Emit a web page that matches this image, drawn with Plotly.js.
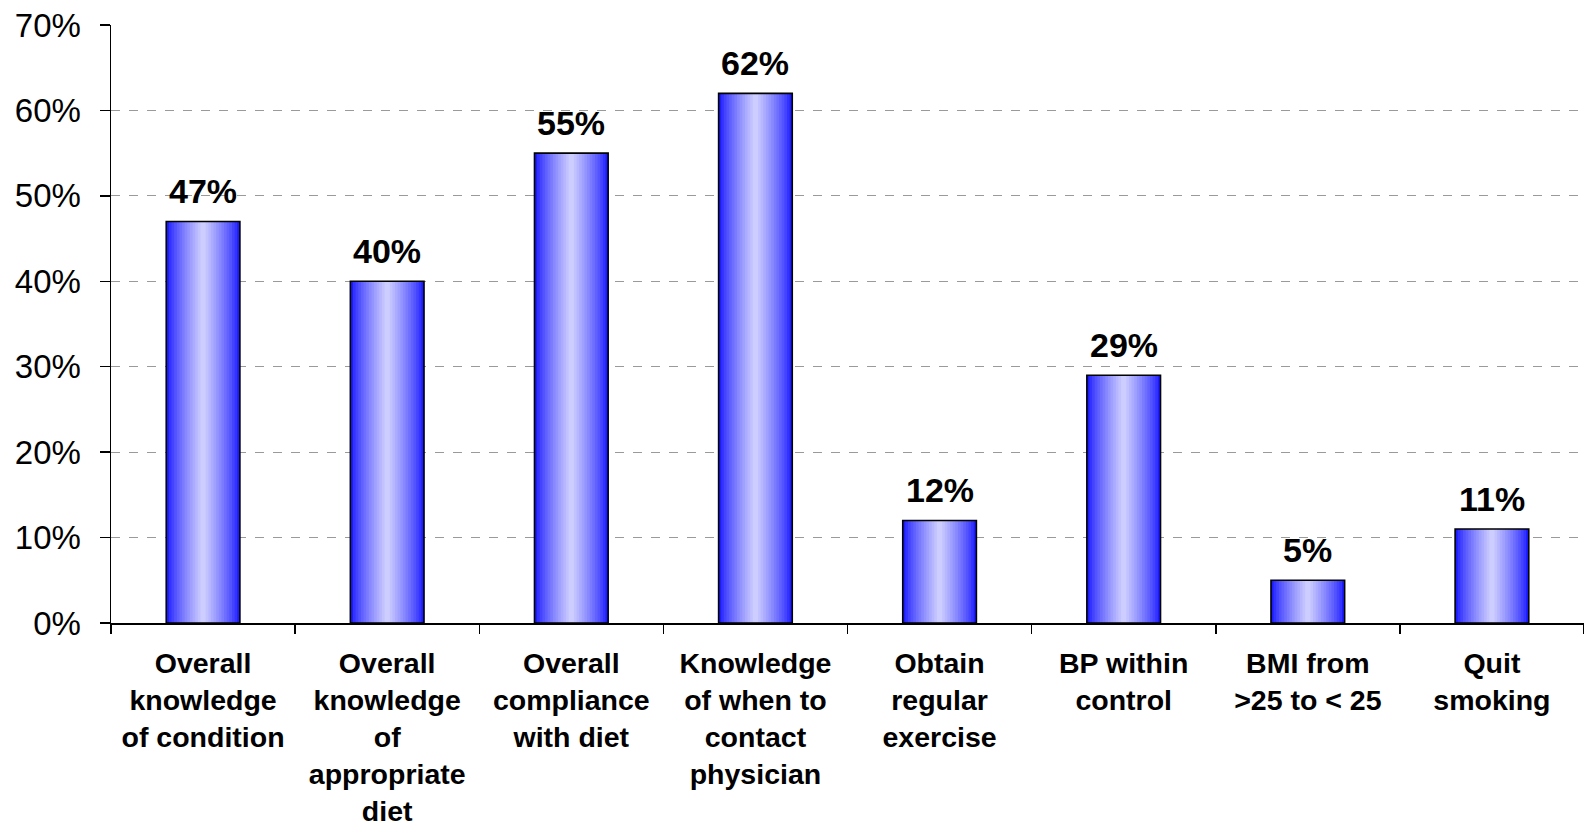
<!DOCTYPE html>
<html>
<head>
<meta charset="utf-8">
<script src="https://cdn.plot.ly/plotly-3.0.1.min.js"></script>
<style>html,body{margin:0;padding:0;background:#fff;}#chart{width:1584px;height:828px;}</style>
</head>
<body>
<div id="chart"></div>
<script>
const categories = [
  "Overall<br>knowledge<br>of condition",
  "Overall<br>knowledge<br>of<br>appropriate<br>diet",
  "Overall<br>compliance<br>with diet",
  "Knowledge<br>of when to<br>contact<br>physician",
  "Obtain<br>regular<br>exercise",
  "BP within<br>control",
  "BMI from<br>>25 to < 25",
  "Quit<br>smoking"
];
const values = [0.47, 0.40, 0.55, 0.62, 0.12, 0.29, 0.05, 0.11];
const yTickVals = [0, 0.1, 0.2, 0.3, 0.4, 0.5, 0.6, 0.7];

const BAR_W = 0.4;
const LAYERS = 14;
const traces = [];
for (let k = 0; k < LAYERS; k++) {
  const t = k / (LAYERS - 1);
  const f = Math.pow(t, 0.8);
  const r = Math.round(28 + (205 - 28) * f);
  traces.push({
    type: 'bar', x: categories, y: values,
    width: BAR_W * (1 - k / LAYERS),
    marker: {color: `rgb(${r},${r},255)`, line: {width: 0}},
    hoverinfo: 'skip', showlegend: false
  });
}
traces.push({
  type: 'bar', x: categories, y: values, width: BAR_W,
  marker: {color: 'rgba(0,0,0,0)', line: {color: '#000', width: 1.6}},
  hoverinfo: 'skip', showlegend: false
});

const annotations = categories.map((c, i) => ({
  x: c, y: values[i], xref: 'x', yref: 'y',
  text: '<b>' + Math.round(values[i] * 100) + '%</b>',
  showarrow: false, yanchor: 'bottom', yshift: 9,
  font: {family: 'Liberation Sans, Arial, sans-serif', size: 34, color: '#000'}
}));

const layout = {
  width: 1584, height: 828,
  margin: {l: 111, r: 0, t: 25, b: 205},
  paper_bgcolor: '#fff', plot_bgcolor: '#fff',
  barmode: 'overlay',
  font: {family: 'Liberation Sans, Arial, sans-serif', color: '#000'},
  xaxis: {
    type: 'category',
    showline: true, linecolor: '#000', linewidth: 1.5,
    ticks: 'outside', tickson: 'boundaries', ticklen: 9, tickcolor: '#000', tickwidth: 1.5,
    showgrid: false, zeroline: false,
    tickfont: {size: 28.5, family: 'Liberation Sans, Arial, sans-serif', weight: 'bold', color: '#000'},
    ticklabelstandoff: 14
  },
  yaxis: {
    range: [0, 0.7], tickvals: yTickVals, tickformat: '.0%',
    showline: true, linecolor: '#000', linewidth: 1.5,
    ticks: 'outside', ticklen: 10, tickcolor: '#000', tickwidth: 1.5,
    showgrid: true, gridcolor: '#9a9a9a', gridwidth: 1, griddash: 'dash',
    zeroline: false,
    tickfont: {size: 33, family: 'Liberation Sans, Arial, sans-serif', color: '#000'},
    ticklabelstandoff: 12
  },
  annotations: annotations
};

Plotly.newPlot('chart', traces, layout, {displayModeBar: false, staticPlot: true});
</script>
</body>
</html>
